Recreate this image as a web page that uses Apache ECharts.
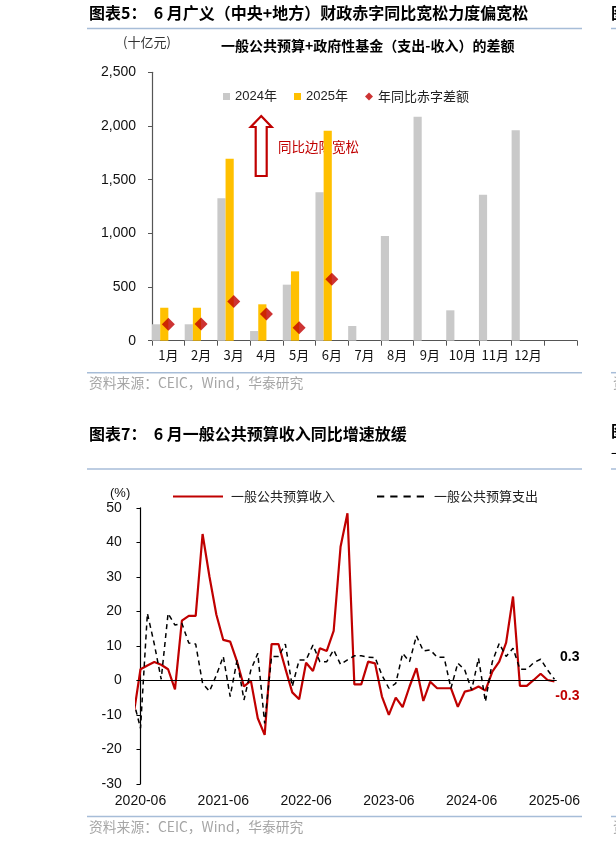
<!DOCTYPE html>
<html><head><meta charset="utf-8">
<script src="https://cdn.jsdelivr.net/npm/echarts@6/dist/echarts.min.js"></script>
<style>html,body{margin:0;padding:0;background:#fff}#c{width:616px;height:844px}</style>
</head><body><div id="c"></div>
<script>
// ---------- Chart 1 data (十亿元) ----------
const monthCats = ['1月','2月','3月','4月','5月','6月','7月','8月','9月','10月','11月','12月',''];
const deficit2024 = [153,153,1326,90,522,1382,137,975,2087,283,1360,1960,null];
const deficit2025 = [307,307,1695,339,646,1956,null,null,null,null,null,null,null];
const deficitYoY = [154,155,365,248,120,572,null,null,null,null,null,null,null];
const topYTicks = [0,500,1000,1500,2000,2500];

// ---------- Chart 2 data (%), monthly from 2020-05 ----------
const firstMonthOffset = -1; // 2020-05 relative to 2020-06
const revenueYoY = [-10.0,3.2,4.3,5.3,4.5,3.2,-2.6,17.3,18.7,18.7,42.4,30.0,19.0,11.7,11.2,5.4,-1.8,-0.1,-11.0,-15.8,
  10.5,10.5,3.4,-3.5,-5.5,5.1,2.7,9.3,8.5,14.3,38.7,48.4,-1.2,-1.2,5.4,4.9,-4.7,-10.0,-5.0,-7.8,-1.8,3.5,-6.0,-0.4,
  -2.3,-2.3,-2.3,-7.7,-3.3,-2.8,-1.8,-3.0,2.5,5.4,10.9,24.3,-1.6,-1.6,0.1,1.9,0.1,-0.3];
const expenditureYoY = [-6.0,-13.9,19.4,10.5,0.3,19.4,16.0,16.5,10.8,10.5,-0.9,-3.2,1.5,6.9,-4.7,5.9,-5.7,3.0,7.8,-12.5,
  6.9,6.9,10.5,-1.8,5.9,5.9,10.2,5.4,5.4,8.8,4.6,5.9,7.1,7.1,6.7,6.6,1.5,-2.3,-0.9,7.8,5.4,12.9,8.5,8.8,
  6.7,6.7,-2.3,5.0,3.0,-2.8,6.4,-6.2,5.4,10.7,6.9,9.3,3.2,3.2,5.1,6.1,3.0,0.3];
const bottomTickLabels = ['2020-06','2021-06','2022-06','2023-06','2024-06','2025-06'];
const bottomTickPos = [0,12,24,36,48,60];

const NUM = '"Liberation Sans", Arial, "Noto Sans CJK SC", sans-serif';
const CJK = '"Noto Sans CJK SC", "Liberation Sans", sans-serif';
const RED = '#c00000';
const BLUE = '#a7bdd8';

function toPairs(arr){ return arr.map((v,i)=>[i+firstMonthOffset, v]); }

const chart = echarts.init(document.getElementById('c'), null, {renderer:'canvas', width:616, height:844});

function txt(x,y,s,o){ return Object.assign({type:'text', left:x, top:y, style:Object.assign({text:s, fill:'#000', font:'13px '+CJK}, o||{})}); }
function hline(x1,x2,y,c,w){ return {type:'line', shape:{x1:x1,y1:y,x2:x2,y2:y}, style:{stroke:c||BLUE, lineWidth:w||1.5}}; }

const dashIcon = 'path://M0,0h7.3v2h-7.3z M13.3,0h7.3v2h-7.3z M26.6,0h7.3v2h-7.3z M39.9,0h7.3v2h-7.3z';

const option = {
  animation:false,
  backgroundColor:'#fff',
  grid:[
    {left:152, top:72.3, width:425, height:268.4},
    {left:136.7, top:507.8, width:420, height:276}
  ],
  legend:[
    {data:['2024年'], left:218, top:85, itemWidth:7, itemHeight:7, icon:'rect', selectedMode:false, textStyle:{fontSize:13, fontFamily:NUM, color:'#222'}},
    {data:['2025年'], left:289, top:85, itemWidth:7, itemHeight:7, icon:'rect', selectedMode:false, textStyle:{fontSize:13, fontFamily:NUM, color:'#222'}},
    {data:['年同比赤字差额'], left:360, top:85, itemWidth:8, itemHeight:8, icon:'diamond', selectedMode:false, textStyle:{fontSize:13, fontFamily:CJK, color:'#222'}},
    {data:['一般公共预算收入'], left:168, top:485, itemWidth:50, itemHeight:2, icon:'rect', selectedMode:false, textStyle:{fontSize:13, fontFamily:CJK, color:'#222', padding:[0,0,0,3]}},
    {data:['一般公共预算支出'], left:372, top:485, itemWidth:47, itemHeight:2, icon:dashIcon, selectedMode:false, textStyle:{fontSize:13, fontFamily:CJK, color:'#222', padding:[0,0,0,5]}}
  ],
  xAxis:[
    {gridIndex:0, type:'category', data:monthCats, boundaryGap:true,
     axisLine:{lineStyle:{color:'#555', width:1.2}}, axisTick:{show:true, length:5, lineStyle:{color:'#555'}},
     axisLabel:{fontSize:13, fontFamily:CJK, color:'#111', margin:8, interval:0}},
    {gridIndex:1, type:'value', min:-0.55, max:60.33,
     axisLine:{show:false, onZero:false}, axisTick:{show:false}, splitLine:{show:false},
     axisLabel:{customValues:bottomTickPos, fontSize:14, fontFamily:NUM, color:'#111', margin:10,
       formatter:function(v){ const k=bottomTickPos.indexOf(Math.round(v)); return k>=0?bottomTickLabels[k]:''; }}}
  ],
  yAxis:[
    {gridIndex:0, type:'value', min:0, max:2500, interval:500,
     axisLine:{show:true, lineStyle:{color:'#555', width:1.2}}, axisTick:{show:true, length:4, lineStyle:{color:'#555'}},
     splitLine:{show:false},
     axisLabel:{fontSize:14, fontFamily:NUM, color:'#111', margin:16,
       formatter:function(v){ return v.toLocaleString('en-US'); }}},
    {gridIndex:1, type:'value', min:-30, max:50, interval:10,
     axisLine:{show:true, lineStyle:{color:'#000', width:1.2}}, axisTick:{show:true, length:4, lineStyle:{color:'#000'}},
     splitLine:{show:false},
     axisLabel:{fontSize:14, fontFamily:NUM, color:'#111', margin:15}}
  ],
  series:[
    {name:'2024年', type:'bar', xAxisIndex:0, yAxisIndex:0, data:deficit2024, barWidth:'25%', barGap:'0%', itemStyle:{color:'#c9c9c9'}},
    {name:'2025年', type:'bar', xAxisIndex:0, yAxisIndex:0, data:deficit2025, barWidth:'25%', barGap:'0%', itemStyle:{color:'#ffc000'}},
    {name:'_pad1', type:'bar', xAxisIndex:0, yAxisIndex:0, data:monthCats.map(()=>null), barWidth:'25%', barGap:'0%'},
    {name:'_pad2', type:'bar', xAxisIndex:0, yAxisIndex:0, data:monthCats.map(()=>null), barWidth:'25%', barGap:'0%'},
    {name:'年同比赤字差额', type:'scatter', xAxisIndex:0, yAxisIndex:0, data:deficitYoY, symbol:'diamond', symbolSize:[13,13], itemStyle:{color:RED}, z:5},
    {name:'一般公共预算收入', type:'line', xAxisIndex:1, yAxisIndex:1, data:toPairs(revenueYoY), symbol:'none',
     lineStyle:{color:RED, width:2.2}, itemStyle:{color:RED}, z:3,
     endLabel:{show:true, formatter:function(p){return p.value[1].toFixed(1);}, color:RED, fontWeight:'bold', fontSize:14, fontFamily:NUM, align:'right', offset:[17,15]}},
    {name:'一般公共预算支出', type:'line', xAxisIndex:1, yAxisIndex:1, data:toPairs(expenditureYoY), symbol:'none',
     lineStyle:{color:'#000', width:1.5, type:[5,4]}, itemStyle:{color:'#000'}, z:4,
     endLabel:{show:true, formatter:function(p){return p.value[1].toFixed(1);}, color:'#000', fontWeight:'bold', fontSize:14, fontFamily:NUM, align:'right', offset:[17,-22]},
     markLine:{silent:true, symbol:'none', label:{show:false}, lineStyle:{color:'#000', width:1.2, type:'solid'}, data:[{yAxis:0}]}}
  ],
  graphic:[
    txt(89, 5, '图表5：  6 月广义（中央+地方）财政赤字同比宽松力度偏宽松', {font:'bold 16px '+CJK}),
    hline(87, 582, 28.5),
    txt(611, 5, '图表6：', {font:'bold 16px '+CJK}),
    hline(611, 616, 28.5),
    txt(123, 36, '(十亿元)', {font:'13px '+CJK, fill:'#333'}),
    txt(221, 39, '一般公共预算+政府性基金（支出-收入）的差额', {font:'bold 14px '+CJK}),
    {type:'polygon', shape:{points:[[261.2,116],[271.7,127],[266.7,127],[266.7,176],[255.7,176],[255.7,127],[250.7,127]]},
     style:{fill:'#fff', stroke:RED, lineWidth:2.2}},
    txt(278, 140, '同比边际宽松', {font:'13.5px '+CJK, fill:RED}),
    hline(87, 582, 372.7),
    hline(611, 616, 372.7),
    txt(89, 376, '资料来源：CEIC，Wind，华泰研究', {font:'13.8px '+CJK, fill:'#a6a6a6'}),
    txt(613, 376, '资料来源', {font:'13.8px '+CJK, fill:'#a6a6a6'}),
    txt(89, 426, '图表7：  6 月一般公共预算收入同比增速放缓', {font:'bold 16px '+CJK}),
    txt(611, 423, '图表8：', {font:'bold 16px '+CJK}),
    txt(611, 447, '一般', {font:'13px '+CJK}),
    hline(87, 582, 469),
    hline(611, 616, 469),
    txt(110, 487, '(%)', {font:'13px '+NUM, fill:'#111'}),
    hline(87, 582, 816.5),
    hline(611, 616, 816.5),
    txt(89, 820, '资料来源：CEIC，Wind，华泰研究', {font:'13.8px '+CJK, fill:'#a6a6a6'}),
    txt(613, 820, '资料来源', {font:'13.8px '+CJK, fill:'#a6a6a6'})
  ]
};
chart.setOption(option);
</script></body></html>
